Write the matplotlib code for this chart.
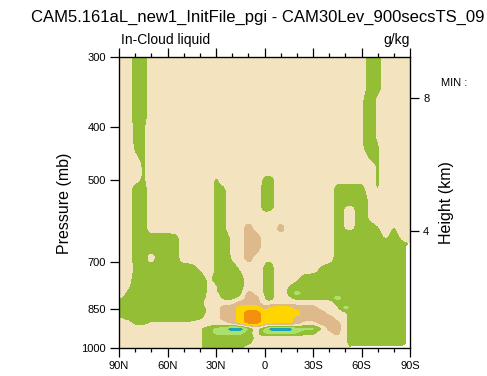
import numpy as np
import matplotlib
matplotlib.use('Agg')
import matplotlib.pyplot as plt
from matplotlib.ticker import NullLocator

plt.rcParams['font.family'] = ['Liberation Sans', 'DejaVu Sans']

# latitude columns (90N -> 90S) and pressure rows (hPa)
lats = [90, 85, 80, 75, 70, 65, 60, 55, 50, 45, 40, 35, 30, 25, 20, 15, 10, 5, 0,
        -5, -10, -15, -20, -25, -30, -35, -40, -45, -50, -55, -60, -65, -70, -75,
        -80, -85, -90]
plev = [300, 314, 327, 341, 356, 370, 386, 402, 419, 437, 456, 475, 495, 516, 538,
        560, 584, 609, 634, 661, 689, 718, 749, 780, 797, 813, 830, 847, 865, 883,
        902, 921, 940, 960, 980, 1000]

# difference field, one string per pressure row
# . ~0   - / h weak negative   g negative   l / L more negative   t most negative
# d positive   y more positive   o most positive   x missing
rows = [
    "..gg. ..... ..... ..... ..... ..... .gg.. ..",
    "..gg. ..... ..... ..... ..... ..... .gg.. ..",
    "..gg. ..... ..... ..... ..... ..... .gg.. ..",
    "..gg. ..... ..... ..... ..... ..... .gg.. ..",
    "..gg. ..... ..... ..... ..... ..... -g-.. ..",
    "..gg. ..... ..... ..... ..... ..... -g-.. ..",
    "..gg. ..... ..... ..... ..... ..... -g-.. ..",
    "..hh. ..... ..... ..... ..... ..... -g-.. ..",
    "..hh. ..... ..... ..... ..... ..... -g-.. ..",
    "..hh. ..... ..... ..... ..... ..... -gh.. ..",
    "..-h. ..... ..... ..... ..... ..... .hh.. ..",
    "...h. ..... ..... ..... ..... ..... ..h.. ..",
    "...h. ..... ..h.. ...hh ..... ..... ..h.. ..",
    "..gg. ..... ..hh. ...gh ..... ..ggg g.h.. ..",
    "..gg. ..... ..hh. ...gh ..... ..ggg g-... ..",
    "..gg. ..... ..hh. ...gh ..... ..g-- g-... ..",
    "..gg. ..... ..hh. ..... ..... ..g-- g-... ..",
    "..gg. ..... ..hh. .d... d.... ..g-- ggh.h ..",
    "..ggg ggg.. ..hg- .dd.. ..... ..ggg ggg-g -.",
    "..ggg ggg.. ..hg- .dd.. ..... ..ggg ggggg gx",
    "..gg. ggg.. ..hg- .d.-- ..... ..ggg ggggg gx",
    "..hgg ggggg -.hgg -..hh ..... hgggg ggggg gx",
    "..ggg ggggg g-hgg g..hh ..-gg ggggg ggggg gx",
    ".-ggg ggggg g--gg g..hh .hggg ggggg ggggg gx",
    ".hggg ggggg g--gg gd.hh .hLgg ggggg ggggg gx",
    "-gggg ggggg g-.gg -ddhh .-ggg ggLgg ggggg gx",
    "ggggg ggggg g.... ddd-- ..... ..ggg ggggg gx",
    "ggggg ggggg g-.dd yyydy yyddd ..-Lg ggggg gx",
    "ggggg ggggg g-.dd yooyy yyydd d..-g ggggg gx",
    "-gggg ggggg g..dd yooyy yyddd dd.-g ggggg gx",
    "..gg- ----- ....d yooyy yyd.. ddd-g ggggg gx",
    "..... ..... -gllt tl.lt ttlll gdd-g ggggg gx",
    "..... ..... -glll lg.ll lllgg ..d-g ggggg gx",
    "..... ..... -gggg gg-.. ..... ...-g ggggg gx",
    "..... ...h. -gggg gg... ..... ...-g ggggg gx",
    "..... ..... -gggg g.... ..... ....x xxxxx xx",
]
codes = {'.': 0.0, '-': -0.4, 'h': -0.7, 'g': -1.0, 'l': -2.0, 'L': -2.4, 't': -3.8,
         'd': 1.0, 'y': 2.0, 'o': 3.0, 'x': np.nan}

levels = [-5, -2.5, -1.5, -0.5, 0.5, 1.5, 2.5, 5]
colors = ['#1ca3b6', '#abe06a', '#93be35', '#f3e3bf', '#ddb98c', '#ffd500', '#f5900f']

Z = np.array([[codes[c] for c in r.replace(' ', '')] for r in rows])
miss = np.isnan(Z).astype(float)
Z = np.nan_to_num(Z, nan=-1.0)


def refine(a, n, coords_i, coords_j):
    # bilinear refinement on the index grid
    i = np.arange(a.shape[0])
    j = np.arange(a.shape[1])
    fi = np.linspace(0, a.shape[0] - 1, (a.shape[0] - 1) * n + 1)
    fj = np.linspace(0, a.shape[1] - 1, (a.shape[1] - 1) * n + 1)
    tmp = np.array([np.interp(fj, j, r) for r in a])
    out = np.array([np.interp(fi, i, c) for c in tmp.T]).T
    return out, np.interp(fi, i, coords_i), np.interp(fj, j, coords_j)


def smooth(a):
    # [1 2 1] filter twice along each axis, just to round the corners
    for _ in range(2):
        p = np.pad(a, 1, mode='edge')
        a = (p[:-2, 1:-1] + 2 * p[1:-1, 1:-1] + p[2:, 1:-1]) / 4
        p = np.pad(a, 1, mode='edge')
        a = (p[1:-1, :-2] + 2 * p[1:-1, 1:-1] + p[1:-1, 2:]) / 4
    return a


n = 4
Zf, logp_f, lat_f = refine(Z, n, np.log(plev), lats)
Mf, _, _ = refine(miss, n, np.log(plev), lats)
Zf = smooth(Zf)
Zf = np.ma.masked_where(Mf > 0.5, Zf)
p_f = np.exp(logp_f)

fig = plt.figure(figsize=(4.87, 3.76), dpi=100)
ax = fig.add_axes([119/487, 28/376, 291/487, 291/376])
ax.contourf(lat_f, p_f, Zf, levels=levels, colors=colors)

ax.set_yscale('log')
ax.set_ylim(1000, 300)
ax.set_xlim(90, -90)
ax.set_yticks([300, 400, 500, 700, 850, 1000])
ax.set_yticklabels(['300', '400', '500', '700', '850', '1000'])
ax.yaxis.set_minor_locator(NullLocator())
ax.set_xticks([90, 60, 30, 0, -30, -60, -90])
ax.set_xticklabels(['90N', '60N', '30N', '0', '30S', '60S', '90S'])
ax.set_xticks([80, 70, 50, 40, 20, 10, -10, -20, -40, -50, -70, -80], minor=True)
ax.tick_params(axis='x', which='both', top=True, direction='out')
ax.tick_params(axis='y', which='both', right=False, direction='out')
ax.tick_params(which='major', length=6.5, width=0.9, labelsize=8, pad=3)
ax.tick_params(which='minor', length=3, width=0.9)
for s in ax.spines.values():
    s.set_linewidth(0.9)

# height axis from the standard atmosphere
heights = [4, 8]
p_h = [1013.25 * (1 - 2.25577e-5 * h * 1000) ** 5.25588 for h in heights]
ax2 = ax.twinx()
ax2.set_yscale('log')
ax2.set_ylim(1000, 300)
ax2.set_yticks(p_h)
ax2.set_yticklabels([str(h) for h in heights])
ax2.yaxis.set_minor_locator(NullLocator())
ax2.tick_params(axis='y', length=6.5, width=0.9, labelsize=8, pad=3)

fig.text(31/487, 1 - 17/376, 'CAM5.161aL_new1_InitFile_pgi - CAM30Lev_900secsTS_09',
         fontsize=12, ha='left', va='center')
fig.text(121/487, 1 - 40/376, 'In-Cloud liquid', fontsize=10, ha='left', va='center')
fig.text(410/487, 1 - 40/376, 'g/kg', fontsize=10, ha='right', va='center')
fig.text(441/487, 1 - 83/376, 'MIN :', fontsize=8, ha='left', va='center')
fig.text(65/487, 1 - 203/376, 'Pressure (mb)', fontsize=11.5, rotation=90,
         ha='center', va='center')
fig.text(446/487, 1 - 203/376, 'Height (km)', fontsize=11.5, rotation=90,
         ha='center', va='center')

fig.savefig('out.png', dpi=100)
